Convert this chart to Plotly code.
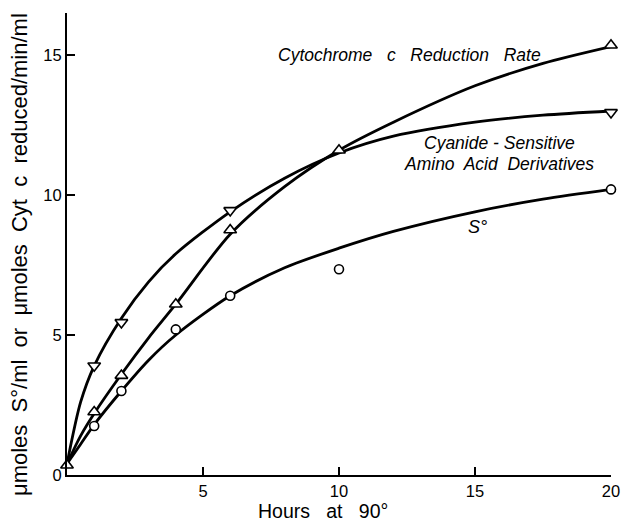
import plotly.graph_objects as go

# Measured data points
hours_cyt = [0, 1, 2, 4, 6, 10, 20]
cyt_rate = [0.35, 2.25, 3.55, 6.1, 8.75, 11.6, 15.35]

hours_cn = [1, 2, 6, 20]
cyanide = [3.9, 5.45, 9.45, 12.95]

hours_s = [1, 2, 4, 6, 10, 20]
sulfur = [1.75, 3.0, 5.2, 6.4, 7.35, 10.2]

# Smooth hand-drawn curves
curve_x = [0, 0.5, 1, 2, 3, 4, 6, 8, 10, 12, 15, 17.5, 20]
curve_cyt = [0.4, 1.4, 2.2, 3.6, 4.9, 6.1, 8.6, 10.3, 11.6, 12.6, 13.9, 14.7, 15.3]
curve_cn = [0.4, 2.6, 3.9, 5.6, 6.9, 7.9, 9.4, 10.6, 11.5, 12.1, 12.6, 12.85, 13.0]
curve_s = [0.4, 1.1, 1.8, 3.0, 4.1, 5.0, 6.4, 7.4, 8.1, 8.7, 9.4, 9.85, 10.2]

x_ticks = [5, 10, 15, 20]
y_ticks = [0, 5, 10, 15]

FONT = "Liberation Sans"

fig = go.Figure()
for cy in (curve_cyt, curve_cn, curve_s):
    fig.add_trace(go.Scatter(x=curve_x, y=cy, mode="lines",
                             line=dict(color="black", width=2.8, shape="spline", smoothing=0.8),
                             hoverinfo="skip", cliponaxis=False))

mk = dict(color="white", size=11, line=dict(color="black", width=1.6))
fig.add_trace(go.Scatter(x=hours_cyt, y=cyt_rate, mode="markers",
                         marker=dict(symbol="triangle-up", **mk), cliponaxis=False))
fig.add_trace(go.Scatter(x=hours_cn, y=cyanide, mode="markers",
                         marker=dict(symbol="triangle-down", **mk), cliponaxis=False))
fig.add_trace(go.Scatter(x=hours_s, y=sulfur, mode="markers",
                         marker=dict(symbol="circle", color="white", size=9,
                                     line=dict(color="black", width=1.6)), cliponaxis=False))

ann_font = dict(family=FONT, size=17.5, color="black")
PW, PH = 544, 462
annotations = [
    dict(x=12.6, y=15.0, text="<i>Cytochrome   c   Reduction   Rate</i>", showarrow=False, font=ann_font),
    dict(x=15.9, y=11.85, text="<i>Cyanide - Sensitive</i>", showarrow=False, font=ann_font),
    dict(x=15.9, y=11.1, text="<i>Amino  Acid  Derivatives</i>", showarrow=False, font=ann_font),
    dict(x=15.1, y=8.85, text="<i>S°</i>", showarrow=False, font=dict(family=FONT, size=18, color="black")),
    dict(xref="paper", yref="paper", x=(323 - 67) / PW, y=(475 - 511) / PH,
         xanchor="center", yanchor="middle",
         text="Hours   at   90°", showarrow=False, font=dict(family=FONT, size=19.5, color="black")),
    dict(xref="paper", yref="paper", x=(19 - 67) / PW, y=(475 - 255) / PH, textangle=-90,
         xanchor="center", yanchor="middle",
         text="μmoles  S°/ml  or  μmoles  Cyt  c  reduced/min/ml", showarrow=False,
         font=dict(family=FONT, size=22, color="black")),
]

fig.update_layout(
    width=626, height=525,
    margin=dict(l=67, r=15, t=13, b=50),
    paper_bgcolor="white", plot_bgcolor="white",
    showlegend=False,
    annotations=annotations,
    font=dict(family=FONT, color="black"),
)
fig.update_xaxes(range=[0, 20], showgrid=False, zeroline=False, showline=True, automargin=False,
                 linecolor="black", linewidth=2, ticks="inside", ticklen=8, tickwidth=2,
                 tickcolor="black", tickvals=x_ticks, ticktext=[str(v) for v in x_ticks],
                 tickfont=dict(family=FONT, size=16.5, color="black"))
fig.update_yaxes(range=[0, 16.5], showgrid=False, zeroline=False, showline=True, automargin=False,
                 linecolor="black", linewidth=2, ticks="inside", ticklen=8, tickwidth=2,
                 tickcolor="black", tickvals=y_ticks, ticktext=[str(v) for v in y_ticks],
                 tickfont=dict(family=FONT, size=16.5, color="black"))

# remove the default page margin / scrollbars so the figure fills the window exactly
fig.write_html(
    "out.html",
    config={"displayModeBar": False, "responsive": False},
    post_script=("document.documentElement.style.overflow='hidden';"
                 "document.body.style.overflow='hidden';"
                 "document.body.style.margin='0';"),
)
